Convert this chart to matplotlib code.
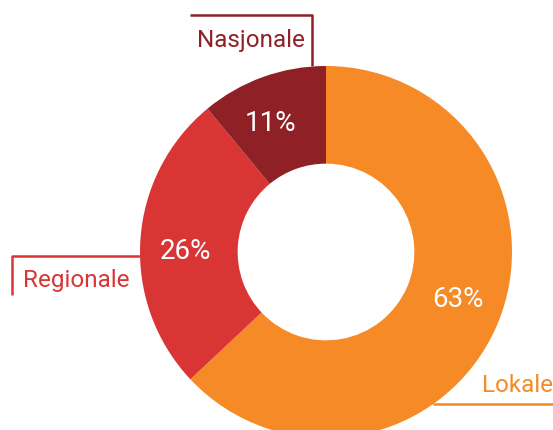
import matplotlib
matplotlib.use("Agg")
import matplotlib.pyplot as plt
import numpy as np

categories = ["Lokale", "Regionale", "Nasjonale"]
values = [63, 26, 11]
colors = ["#F58A27", "#DA3535", "#8F2126"]

W, H = 553, 430
plt.rcParams['font.family'] = ['Roboto', 'DejaVu Sans']
fig = plt.figure(figsize=(W / 100, H / 100), dpi=100)
ax = fig.add_axes([0, 0, 1, 1])

cx, cy, R = 326, H - 252, 186
wedges, texts, autotexts = ax.pie(
    values, colors=colors, startangle=90, counterclock=False,
    center=(cx, cy), radius=R, frame=True,
    wedgeprops=dict(width=R * 0.525, linewidth=0),
    autopct=lambda p: f"{p:.0f}%", pctdistance=0.74,
    textprops=dict(color="white", fontsize=20))
ax.set_xlim(0, W)
ax.set_ylim(0, H)
ax.set_aspect('equal')
ax.axis('off')

# nudge percentage labels slightly counter-clockwise like the reference
for w, t in zip(wedges, autotexts):
    ang = np.deg2rad((w.theta1 + w.theta2) / 2 + 3.5)
    r = R * 0.755
    t.set_position((cx + r * np.cos(ang), cy + r * np.sin(ang)))

lw = 1.8
fs = 17.5
# Nasjonale
ax.plot([190, 312, 312], [H - 15, H - 15, H - 66], color=colors[2], lw=lw, solid_capstyle='butt')
ax.text(251, H - 40, categories[2], color=colors[2], fontsize=fs, ha='center', va='center')
# Regionale
ax.plot([140, 12, 12], [H - 256, H - 256, H - 295], color=colors[1], lw=lw, solid_capstyle='butt')
ax.text(76, H - 281, categories[1], color=colors[1], fontsize=fs, ha='center', va='center')
# Lokale
ax.plot([433, W], [H - 404, H - 404], color=colors[0], lw=lw, solid_capstyle='butt')
ax.text(W, H - 385, categories[0], color=colors[0], fontsize=fs, ha='right', va='center')

fig.savefig("out.png", dpi=100)
